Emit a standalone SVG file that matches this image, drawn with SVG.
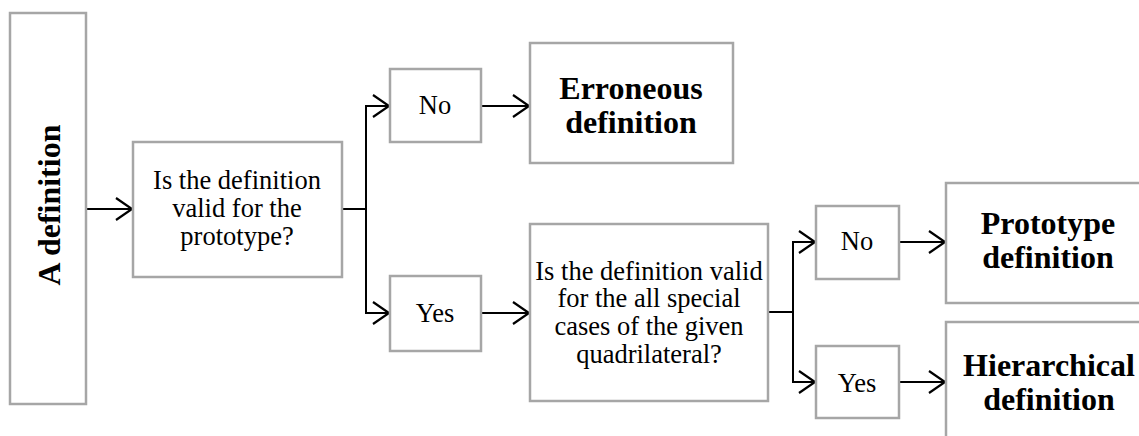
<svg xmlns="http://www.w3.org/2000/svg" width="1139" height="436" viewBox="0 0 1139 436">
  <defs>
    <style>
      .box { fill: #ffffff; stroke: #a6a6a6; stroke-width: 2.5; }
      .conn { fill: none; stroke: #000000; stroke-width: 2; marker-end: url(#arr); }
      .line { fill: none; stroke: #000000; stroke-width: 2; }
      .reg { font-family: "Liberation Serif", "Times New Roman", serif; font-size: 26.5px; fill: #000000; text-anchor: middle; }
      .bold { font-family: "Liberation Serif", "Times New Roman", serif; font-size: 32px; font-weight: bold; fill: #000000; text-anchor: middle; }
    </style>
    <marker id="arr" markerUnits="userSpaceOnUse" markerWidth="22" markerHeight="28" viewBox="-18 -14 22 28" refX="0" refY="0" orient="auto">
      <path d="M-16,-11 L0,0 L-16,11" fill="none" stroke="#000000" stroke-width="2.2" stroke-linejoin="miter"/>
    </marker>
  </defs>
  <rect width="1139" height="436" fill="#ffffff"/>

  <g id="connectors">
    <path class="conn" d="M86,209 H132"/>
    <path class="line" d="M342,209 H366"/>
    <path class="conn" d="M366,209 V106 H389"/>
    <path class="conn" d="M366,209 V313 H389"/>
    <path class="conn" d="M481,106 H529"/>
    <path class="conn" d="M481,313 H529"/>
    <path class="line" d="M768,312 H793"/>
    <path class="conn" d="M793,312 V242 H815"/>
    <path class="conn" d="M793,312 V382 H815"/>
    <path class="conn" d="M899,242 H945"/>
    <path class="conn" d="M899,382 H945"/>
  </g>

  <g id="node-a-definition">
    <rect class="box" x="10" y="13" width="76" height="391"/>
    <text class="bold" transform="translate(60,205) rotate(-90)" x="0" y="0">A definition</text>
  </g>

  <g id="node-q1">
    <rect class="box" x="133" y="142" width="209" height="135"/>
    <text class="reg" x="237" y="189">Is the definition</text>
    <text class="reg" x="237" y="217">valid for the</text>
    <text class="reg" x="237" y="245">prototype?</text>
  </g>

  <g id="node-no1">
    <rect class="box" x="390" y="69" width="91" height="73"/>
    <text class="reg" x="435" y="114">No</text>
  </g>

  <g id="node-yes1">
    <rect class="box" x="390" y="276" width="91" height="75"/>
    <text class="reg" x="435" y="322">Yes</text>
  </g>

  <g id="node-erroneous">
    <rect class="box" x="530" y="43" width="203" height="120"/>
    <text class="bold" x="631" y="99">Erroneous</text>
    <text class="bold" x="631" y="133">definition</text>
  </g>

  <g id="node-q2">
    <rect class="box" x="530" y="224" width="238" height="177"/>
    <text class="reg" x="649" y="280">Is the definition valid</text>
    <text class="reg" x="649" y="307">for the all special</text>
    <text class="reg" x="649" y="335">cases of the given</text>
    <text class="reg" x="649" y="363">quadrilateral?</text>
  </g>

  <g id="node-no2">
    <rect class="box" x="816" y="206" width="83" height="73"/>
    <text class="reg" x="857" y="250">No</text>
  </g>

  <g id="node-yes2">
    <rect class="box" x="816" y="346" width="83" height="72"/>
    <text class="reg" x="857" y="392">Yes</text>
  </g>

  <g id="node-prototype">
    <rect class="box" x="946" y="183" width="210" height="120"/>
    <text class="bold" x="1048" y="234">Prototype</text>
    <text class="bold" x="1048" y="268">definition</text>
  </g>

  <g id="node-hierarchical">
    <rect class="box" x="946" y="322" width="210" height="130"/>
    <text class="bold" x="1049" y="376">Hierarchical</text>
    <text class="bold" x="1049" y="410">definition</text>
  </g>
</svg>
